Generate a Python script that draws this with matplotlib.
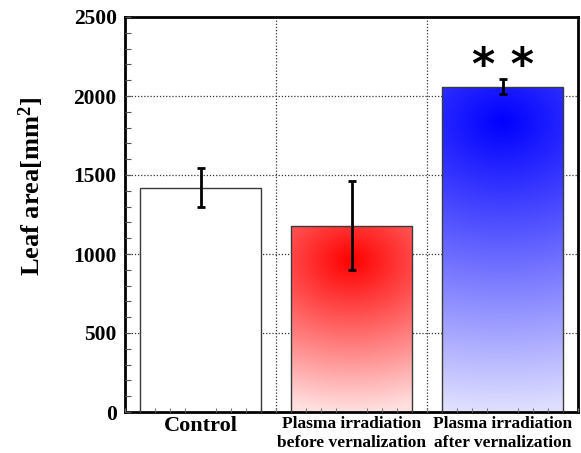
import numpy as np
import matplotlib
matplotlib.use("Agg")
import matplotlib.pyplot as plt
from matplotlib.ticker import MultipleLocator

categories = ["Control", "Plasma irradiation\nbefore vernalization", "Plasma irradiation\nafter vernalization"]
values = [1420, 1180, 2060]
errors = [123, 283, 45]
base_colors = [None, (1.0, 0.0, 0.0), (0.0, 0.0, 1.0)]
yticks = [0, 500, 1000, 1500, 2000, 2500]
signif = ["", "", "* *"]

plt.rcParams['mathtext.fontset'] = 'custom'
plt.rcParams['mathtext.rm'] = 'Liberation Serif:bold'
plt.rcParams['mathtext.bf'] = 'Liberation Serif:bold'
plt.rcParams['mathtext.it'] = 'Liberation Serif:bold'
plt.rcParams['mathtext.default'] = 'rm'

fig = plt.figure(figsize=(5.81, 4.53), dpi=100)
ax = fig.add_axes([125/581, 41/453, 453/581, 395/453])

x = np.arange(len(values)) + 0.5
bars = ax.bar(x, values, width=0.8, facecolor='none', edgecolor='#3a3a3a', linewidth=1.0, zorder=3)

ax.set_xlim(0, 3)
ax.set_ylim(0, 2500)
fig.canvas.draw()

for b, c in zip(bars, base_colors):
    x0, w, h = b.get_x(), b.get_width(), b.get_height()
    if c is None:
        ax.add_patch(plt.Rectangle((x0, 0), w, h, facecolor='white', edgecolor='none', zorder=1.5))
        continue
    # bar size in pixels
    p0 = ax.transData.transform((x0, 0))
    p1 = ax.transData.transform((x0 + w, h))
    wpx, hpx = abs(p1[0] - p0[0]), abs(p1[1] - p0[1])
    ny, nx = 300, 120
    dx = np.linspace(-wpx / 2, wpx / 2, nx)[None, :]
    dy = np.linspace(0, hpx, ny)[:, None] - 35.0
    d = np.sqrt(0.6 * dx ** 2 + dy ** 2) / (hpx - 35.0)
    t = np.clip(d, 0, 1) * 0.88
    col = np.array(c)[None, None, :]
    img = col + (1 - col) * t[:, :, None]
    im = ax.imshow(img, extent=(x0, x0 + w, 0, h), origin='upper', aspect='auto',
                   interpolation='bilinear', zorder=2)
    im.set_clip_path(plt.Rectangle((x0, 0), w, h, transform=ax.transData))

ax.errorbar(x, values, yerr=errors, fmt='none', ecolor='black', elinewidth=2,
            capsize=3, capthick=2, zorder=4)

for xi, s, v, e in zip(x, signif, values, errors):
    if s:
        ax.text(xi, v + e + 80, s, ha='center', va='center', fontsize=32,
                fontweight='bold', family='DejaVu Sans', zorder=5)

for gy in yticks[1:-1]:
    ax.axhline(gy, color='#333333', linestyle=(0, (1, 1.5)), linewidth=0.9, zorder=0.5)
for gx in [1, 2]:
    ax.axvline(gx, color='#333333', linestyle=(0, (1, 1.5)), linewidth=0.9, zorder=0.5)

ax.set_xlim(0, 3)
ax.set_ylim(0, 2500)
ax.set_axisbelow(False)

ax.set_yticks(yticks)
ax.set_yticklabels([str(t) for t in yticks], fontsize=15.5, fontweight='bold', family='Liberation Serif')
ax.yaxis.set_minor_locator(MultipleLocator(100))
ax.tick_params(axis='y', which='both', direction='in', length=4, width=0.8, color='#555555', pad=6)

ax.set_xticks(x)
ax.set_xticklabels(categories, family='Liberation Serif', fontweight='bold')
labs = ax.get_xticklabels()
labs[0].set_fontsize(16)
labs[1].set_fontsize(12.5)
labs[2].set_fontsize(12.5)
ax.tick_params(axis='x', which='major', length=0, pad=3)
ax.xaxis.set_minor_locator(MultipleLocator(0.1))
ax.tick_params(axis='x', which='minor', direction='in', length=3, width=0.8, color='#777777')

for sp in ax.spines.values():
    sp.set_linewidth(2)
    sp.set_color('black')

ax.set_ylabel('Leaf area[mm$^{2}$]', fontsize=19, fontweight='bold', family='Liberation Serif')
ax.yaxis.set_label_coords(-0.175, 0.57)

fig.savefig('out.png', dpi=100)
